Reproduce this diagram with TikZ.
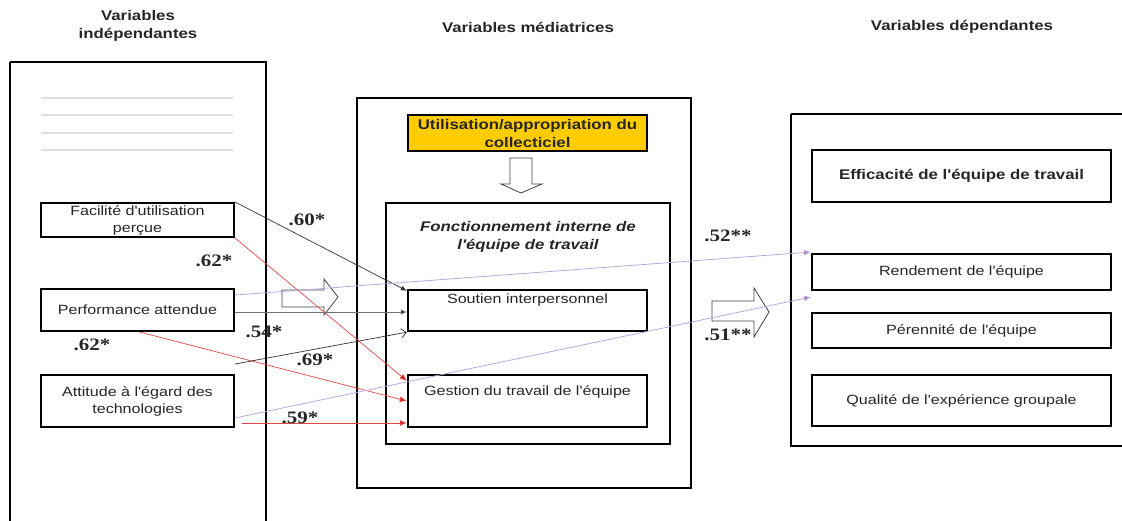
\documentclass[tikz,border=0pt]{standalone}
\usepackage{fontspec}
\setmainfont[FakeStretch=1.2,Ligatures=TeXOff]{Liberation Sans}
\newfontfamily\labfont[FakeStretch=1.2]{Liberation Serif}
\usetikzlibrary{arrows.meta,calc}
\definecolor{gold}{HTML}{FFCC00}
\definecolor{txt}{HTML}{262626}
\definecolor{redl}{HTML}{E04848}
\definecolor{redt}{HTML}{D42020}
\definecolor{purl}{HTML}{BFA6DC}
\definecolor{purt}{HTML}{A47CCC}
\definecolor{grl}{HTML}{DCE0E0}
\newcommand\bodyf{\fontsize{13.4}{17}\selectfont}
\newcommand\boldf{\fontsize{14}{18}\selectfont\bfseries}
\newcommand\labf{\labfont\bfseries\fontsize{17.5}{20}\selectfont}
\begin{document}
\begin{tikzpicture}[x=1pt,y=-1pt,
  bigbox/.style={draw=black,line width=2.6pt},
  vbox/.style={draw=black,line width=2pt,fill=white,align=center,font=\bodyf,text=txt,inner sep=0pt},
  head/.style={font=\boldf,text=txt,align=center,inner sep=0pt},
  plain/.style={font=\bodyf,text=txt,align=center,inner sep=0pt},
  coef/.style={font=\labf,text=txt,inner sep=0pt},
  hollow/.style={draw=black!75,line width=0.8pt,fill=white},
  blk/.style={draw=black!80,line width=0.7pt,-{Latex[length=6pt,width=5pt]}},
  blkopen/.style={draw=black!80,line width=0.7pt,-{Straight Barb[length=5pt,width=9pt]}},
  gry/.style={draw=black!55,line width=0.9pt,-{Latex[length=6pt,width=6pt,fill=black]}},
  redc/.style={draw=redl,line width=0.7pt,-{Latex[length=7pt,width=6pt,fill=redt]}},
  purc/.style={draw=purl,line width=0.8pt,-{Latex[length=7pt,width=6pt,fill=purt]}}
]
\path[use as bounding box] (0,0) rectangle (1122,520);

% headers
\node[head] (h1) at (138,26) {Variables\\indépendantes};
\node[head] (h2) at (528,27) {Variables médiatrices};
\node[head] (h3) at (962,27) {Variables dépendantes};

% big containers
\draw[bigbox] (10,62) -- (10,530) (266,530) -- (266,62) -- (10,62);
\draw[bigbox] (357,98) rectangle (691,488);
\draw[bigbox] (791,114) -- (1130,114) (1130,446) -- (791,446) -- (791,114);

% grey placeholder lines
\foreach \yy in {98,115,133,150} \draw[grl,line width=1.6pt] (41,\yy) -- (233,\yy);

% left boxes
\node[vbox,minimum width=193pt,minimum height=34pt] (fac) at (137.5,220) {Facilité d'utilisation\\perçue};
\node[vbox,minimum width=193pt,minimum height=42pt] (perf) at (137.5,310) {Performance attendue};
\node[vbox,minimum width=193pt,minimum height=52pt] (att) at (137.5,401) {Attitude à l'égard des\\technologies};

% middle
\node[vbox,fill=gold,minimum width=239pt,minimum height=36pt,font=\boldf] (util) at (527.5,133) {Utilisation/appropriation du\\collecticiel};
\node[vbox,minimum width=284pt,minimum height=241pt] (fonc) at (528,323.5) {};
\node[plain,font=\boldf\itshape] (fonct) at (528,237) {Fonctionnement interne de\\l'équipe de travail};
\node[vbox,line width=2.4pt,minimum width=239pt,minimum height=41pt] (sout) at (527.5,310.5) {};
\node[plain] (soutt) at (527.5,300) {Soutien interpersonnel};
\node[vbox,line width=2.4pt,minimum width=239pt,minimum height=52pt] (gest) at (527.5,401) {};
\node[plain] (gestt) at (527.5,392) {Gestion du travail de l'équipe};

% right
\node[vbox,minimum width=299pt,minimum height=52pt,font=\boldf] (eff) at (961.5,176) {Efficacité de l'équipe de travail};
\node[vbox,minimum width=299pt,minimum height=36pt] (rend) at (961.5,272) {Rendement de l'équipe};
\node[vbox,minimum width=299pt,minimum height=35pt] (pere) at (961.5,330.5) {Pérennité de l'équipe};
\node[vbox,minimum width=299pt,minimum height=51pt] (qual) at (961.5,400.5) {Qualité de l'expérience groupale};

% hollow block arrows
\draw[hollow] (510,158) -- (532,158) -- (532,184) -- (542,184) -- (521,193) -- (501,184) -- (510,184) -- cycle;
\draw[hollow] (282,290) -- (324,290) -- (324,279) -- (338,297) -- (324,315) -- (324,307) -- (282,307) -- cycle;
\draw[hollow] (712,301) -- (754,301) -- (754,288) -- (769,312) -- (754,337) -- (754,321) -- (712,321) -- cycle;

% connectors
\coordinate (s69) at ([yshift=10pt]att.north east);
\coordinate (s59) at ([xshift=7pt,yshift=-22pt]att.east);
\draw[blk] (fac.north east) -- ([yshift=-2pt]sout.north west);
\draw[redc] (fac.south east) -- ([yshift=-7pt]gest.north west);
\draw[gry] ([yshift=-2pt]perf.east) -- ([yshift=-2pt]perf.east -| sout.west);
\draw[purc] ([yshift=15pt]perf.east) -- ([yshift=1pt]rend.north west);
\draw[redc] ([xshift=2pt]perf.south) -- (gest.west);
\draw[blkopen] (s69) -- (sout.south west);
\draw[purc] ([yshift=-17pt]att.east) -- ([yshift=-6pt]rend.south west);
\draw[redc] (s59) -- (s59 -| gest.west);

% coefficients
\node[coef] (l60) at (307,220) {.60*};
\node[coef] (l62a) at (214,261) {.62*};
\node[coef] (l54) at (264,332) {.54*};
\node[coef] (l52) at (728,236) {.52**};
\node[coef] (l62b) at (92,345) {.62*};
\node[coef] (l69) at (315,360) {.69*};
\node[coef] (l51) at (728,335) {.51**};
\node[coef] (l59) at (300,418) {.59*};
\end{tikzpicture}
\end{document}
